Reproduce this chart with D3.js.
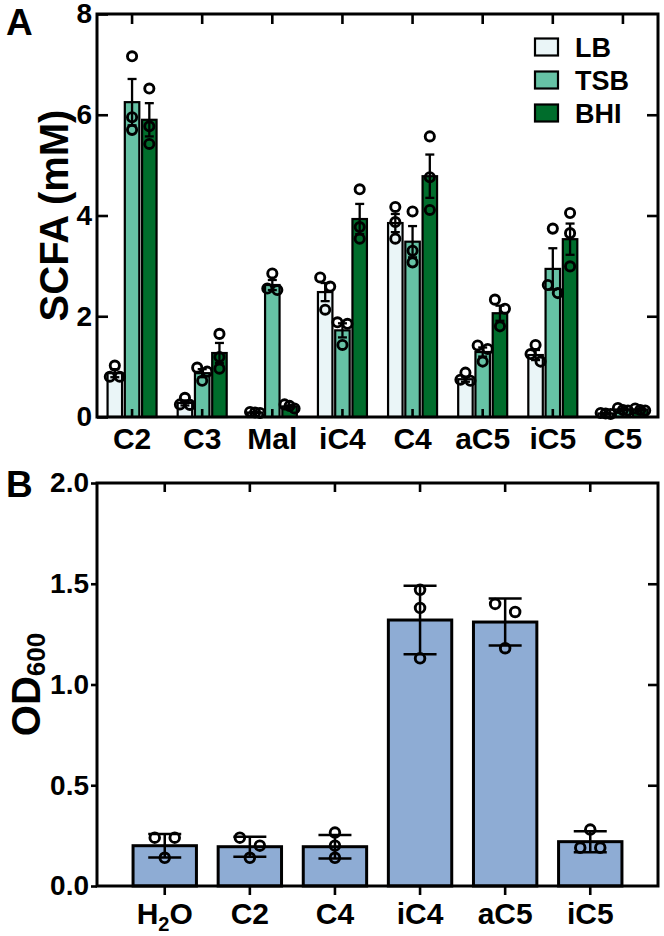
<!DOCTYPE html>
<html><head><meta charset="utf-8">
<script src="https://cdn.jsdelivr.net/npm/d3@7"></script>
<style>
body{margin:0;background:#fff}
svg{display:block}
text{font-family:"Liberation Sans",Arial,Helvetica,sans-serif;font-weight:bold;fill:#000}
</style>
</head><body>
<svg id="chart" width="664" height="936"></svg>
<script>
// ---------- Panel A data ----------
const catsA = ["C2","C3","Mal","iC4","C4","aC5","iC5","C5"];
const seriesA = ["LB","TSB","BHI"];
const colorsA = ["#eaf5f7","#66c2a5","#006d2c"];
const ticksA = [0,2,4,6,8];

const meanLB  = [0.87,0.28,0.09,2.48,3.85,0.75,1.23,0.07];
const semLB   = [0.08,0.05,0.01,0.18,0.18,0.05,0.10,0.01];
const dotsLB  = [[1.02,0.80,0.80],[0.38,0.25,0.24],[0.10,0.08,0.09],[2.77,2.59,2.13],[4.17,3.87,3.54],[0.88,0.72,0.74],[1.43,1.25,1.10],[0.08,0.06,0.07]];

const meanTSB = [6.25,0.87,2.62,1.72,3.48,1.29,2.94,0.15];
const semTSB  = [0.46,0.08,0.10,0.14,0.31,0.09,0.41,0.02];
const dotsTSB = [[7.16,5.95,5.70],[0.98,0.72,0.90],[2.85,2.52,2.55],[1.88,1.85,1.43],[4.08,3.30,3.07],[1.42,1.35,1.10],[3.74,2.46,2.62],[0.18,0.14,0.13]];

const meanBHI = [5.90,1.27,0.21,3.93,4.78,2.06,3.53,0.15];
const semBHI  = [0.33,0.20,0.02,0.30,0.43,0.15,0.31,0.02];
const dotsBHI = [[6.52,5.77,5.42],[1.65,1.19,0.96],[0.25,0.22,0.17],[4.52,3.77,3.54],[5.57,4.76,4.11],[2.33,2.15,1.80],[4.05,3.65,2.99],[0.17,0.14,0.13]];

// ---------- Panel B data ----------
const catsB = ["H2O","C2","C4","iC4","aC5","iC5"];
const meanOD = [0.20,0.195,0.195,1.32,1.31,0.22];
const sdOD   = [0.058,0.05,0.058,0.17,0.117,0.052];
const dotsOD = [[0.24,0.24,0.14],[0.24,0.20,0.14],[0.265,0.20,0.14],[1.47,1.38,1.13],[1.40,1.36,1.18],[0.28,0.19,0.19]];
const ticksB = [0,0.5,1.0,1.5,2.0];
const colorB = "#8eacd4";

// ---------- helpers ----------
const svg = d3.select("#chart");

function swarm(py, s, T){
  const idx = py.map((v,i)=>i).sort((a,b)=>py[a]-py[b]);
  const off = new Array(py.length).fill(0);
  const clusters = [];
  let cur = [idx[0]];
  for(let k=1;k<idx.length;k++){
    if(py[idx[k]]-py[idx[k-1]] < T) cur.push(idx[k]); else {clusters.push(cur); cur=[idx[k]];}
  }
  clusters.push(cur);
  clusters.forEach(c=>{
    if(c.length===2){ off[c[0]]=-s; off[c[1]]=s; }
    else if(c.length===3){
      const spread = py[c[2]]-py[c[0]];
      if(spread < T/2){ off[c[0]]=-s; off[c[1]]=0; off[c[2]]=s; }
      else{
        const d1 = py[c[1]]-py[c[0]], d2 = py[c[2]]-py[c[1]];
        if(d1<=d2){ off[c[0]]=-s; off[c[1]]=s; off[c[2]]=0; }
        else { off[c[0]]=0; off[c[1]]=-s; off[c[2]]=s; }
      }
    }
  });
  return off;
}

function styleAxis(g, size){
  g.select(".domain").remove();
  g.attr("font-family",null).attr("font-size",size);
  g.selectAll(".tick line").attr("stroke","#000").attr("stroke-width",2.6);
}

// ---------- Panel A ----------
const A = {left:97,right:658,top:14,bottom:417};
const xA = d3.scaleBand().domain(catsA).range([A.left,A.right]);
const xSub = d3.scaleBand().domain(seriesA).range([-24.5,24.5]).paddingInner(0.16);
const yA = d3.scaleLinear().domain([0,8]).range([A.bottom,A.top]);

const seriesDataA = [
  {name:"LB", mean:meanLB, err:semLB, dots:dotsLB, color:colorsA[0]},
  {name:"TSB",mean:meanTSB,err:semTSB,dots:dotsTSB,color:colorsA[1]},
  {name:"BHI",mean:meanBHI,err:semBHI,dots:dotsBHI,color:colorsA[2]}
];

const gA = svg.append("g");
seriesDataA.forEach(s=>{
  catsA.forEach((c,i)=>{
    const cx = xA(c)+xA.bandwidth()/2 + xSub(s.name) + xSub.bandwidth()/2;
    const m = s.mean[i];
    gA.append("rect")
      .attr("x",cx - xSub.bandwidth()/2).attr("y",yA(m))
      .attr("width",xSub.bandwidth()).attr("height",yA(0)-yA(m))
      .attr("fill",s.color).attr("stroke","#000").attr("stroke-width",2.2);
  });
});
seriesDataA.forEach(s=>{
  catsA.forEach((c,i)=>{
    const cx = xA(c)+xA.bandwidth()/2 + xSub(s.name) + xSub.bandwidth()/2;
    const m = s.mean[i], e = s.err[i];
    const y1 = yA(m+e), y2 = yA(Math.max(0,m-e));
    const eg = gA.append("g").attr("stroke","#000").attr("stroke-width",2.3);
    eg.append("line").attr("x1",cx).attr("x2",cx).attr("y1",y1).attr("y2",y2);
    eg.append("line").attr("x1",cx-4.5).attr("x2",cx+4.5).attr("y1",y1).attr("y2",y1);
    eg.append("line").attr("x1",cx-4.5).attr("x2",cx+4.5).attr("y1",y2).attr("y2",y2);
    const py = s.dots[i].map(v=>yA(v));
    const off = swarm(py,5,10);
    py.forEach((p,k)=>{
      gA.append("circle").attr("cx",cx+off[k]).attr("cy",p).attr("r",4.6)
        .attr("fill","none").attr("stroke","#000").attr("stroke-width",2.9);
    });
  });
});

// axes A
gA.append("g").attr("transform",`translate(${A.left},0)`)
  .call(d3.axisLeft(yA).tickValues(ticksA).tickFormat(d3.format("d")).tickSize(-11).tickPadding(5))
  .call(g=>styleAxis(g,28));
gA.append("g").attr("transform",`translate(${A.right},0)`)
  .call(d3.axisRight(yA).tickValues(ticksA.slice(1,-1)).tickFormat("").tickSize(-11))
  .call(g=>styleAxis(g,28));
gA.append("g").attr("transform",`translate(0,${A.top})`)
  .call(d3.axisTop(xA).tickFormat("").tickSize(-10))
  .call(g=>styleAxis(g,28));
gA.append("g").attr("transform",`translate(0,${A.bottom})`)
  .call(d3.axisBottom(xA).tickSize(-8).tickPadding(11))
  .call(g=>styleAxis(g,30));
gA.append("rect").attr("x",A.left).attr("y",A.top).attr("width",A.right-A.left).attr("height",A.bottom-A.top)
  .attr("fill","none").attr("stroke","#000").attr("stroke-width",3);

// legend A
const leg = gA.append("g");
seriesDataA.forEach((s,i)=>{
  const cy = 47 + i*33;
  leg.append("rect").attr("x",535).attr("y",cy-8.5).attr("width",23).attr("height",17)
    .attr("fill",s.color).attr("stroke","#000").attr("stroke-width",2.2);
  leg.append("text").attr("x",575).attr("y",cy+9.5).attr("font-size",27).text(s.name);
});

// title + label A
svg.append("text").attr("x",6).attr("y",35).attr("font-size",37).text("A");
svg.append("text").attr("transform",`translate(68,${(A.top+A.bottom)/2}) rotate(-90)`)
  .attr("text-anchor","middle").attr("font-size",40).text("SCFA (mM)");

// ---------- Panel B ----------
const B = {left:97,right:658,top:483,bottom:886};
const xB = d3.scaleBand().domain(catsB).range([B.left,B.right]).paddingInner(0.22).paddingOuter(0.406);
const yB = d3.scaleLinear().domain([0,2]).range([B.bottom,B.top]);
const gB = svg.append("g");

catsB.forEach((c,i)=>{
  const m = meanOD[i];
  gB.append("rect").attr("x",xB(c)+1.5).attr("y",yB(m))
    .attr("width",xB.bandwidth()-3).attr("height",yB(0)-yB(m))
    .attr("fill",colorB).attr("stroke","#000").attr("stroke-width",3);
});
catsB.forEach((c,i)=>{
  const cx = xB(c)+xB.bandwidth()/2;
  const m = meanOD[i], e = sdOD[i];
  const y1 = yB(m+e), y2 = yB(m-e);
  const eg = gB.append("g").attr("stroke","#000").attr("stroke-width",2.5);
  eg.append("line").attr("x1",cx).attr("x2",cx).attr("y1",y1).attr("y2",y2);
  eg.append("line").attr("x1",cx-16.5).attr("x2",cx+16.5).attr("y1",y1).attr("y2",y1);
  eg.append("line").attr("x1",cx-16.5).attr("x2",cx+16.5).attr("y1",y2).attr("y2",y2);
  const py = dotsOD[i].map(v=>yB(v));
  const off = swarm(py,10,10);
  py.forEach((p,k)=>{
    gB.append("circle").attr("cx",cx+off[k]).attr("cy",p).attr("r",4.8)
      .attr("fill","none").attr("stroke","#000").attr("stroke-width",2.9);
  });
});

gB.append("g").attr("transform",`translate(${B.left},0)`)
  .call(d3.axisLeft(yB).tickValues(ticksB).tickFormat(d3.format(".1f")).tickSize(6).tickPadding(2))
  .call(g=>styleAxis(g,28));
gB.append("g").attr("transform",`translate(${B.right},0)`)
  .call(d3.axisRight(yB).tickValues(ticksB.slice(1,-1)).tickFormat("").tickSize(-10))
  .call(g=>styleAxis(g,28));
gB.append("g").attr("transform",`translate(0,${B.top})`)
  .call(d3.axisTop(xB).tickFormat("").tickSize(-9))
  .call(g=>styleAxis(g,28));
gB.append("g").attr("transform",`translate(0,${B.bottom})`)
  .call(d3.axisBottom(xB).tickSize(9).tickPadding(8))
  .call(g=>styleAxis(g,30))
  .call(g=>g.selectAll(".tick text").each(function(d){
    if(d==="H2O"){
      const t = d3.select(this); t.text(null);
      t.append("tspan").text("H");
      t.append("tspan").attr("font-size",20).attr("dy",7).text("2");
      t.append("tspan").attr("dy",-7).text("O");
    }
  }));
gB.append("rect").attr("x",B.left).attr("y",B.top).attr("width",B.right-B.left).attr("height",B.bottom-B.top)
  .attr("fill","none").attr("stroke","#000").attr("stroke-width",3);

svg.append("text").attr("x",6).attr("y",497).attr("font-size",37).text("B");
const tB = svg.append("text").attr("transform",`translate(40,${(B.top+B.bottom)/2}) rotate(-90)`)
  .attr("text-anchor","middle").attr("font-size",40);
tB.append("tspan").text("OD");
tB.append("tspan").attr("font-size",26).attr("dy",5).text("600");
</script>
</body></html>
